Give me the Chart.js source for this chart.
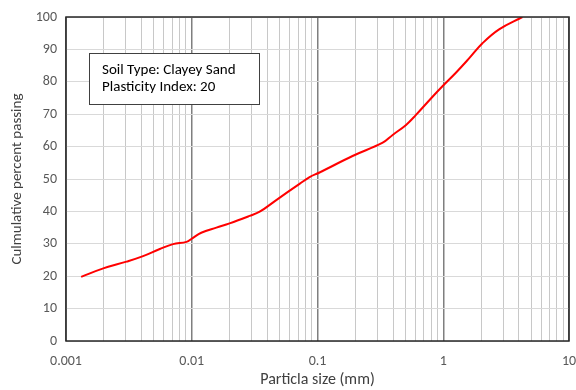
<!DOCTYPE html>
<html>
<head>
<meta charset="utf-8">
<script src="https://cdn.jsdelivr.net/npm/chart.js@4.4.0/dist/chart.umd.min.js"></script>
<style>
  html, body { margin: 0; padding: 0; background: #fff; }
  #wrap { width: 576px; height: 390px; }
</style>
</head>
<body>
<div id="wrap"><canvas id="grafico"></canvas></div>
<script>
const tamanhos = [0.00132, 0.00198, 0.00303, 0.0041, 0.00557, 0.0071, 0.00908, 0.0101, 0.0119, 0.0157, 0.02,
  0.0288, 0.0347, 0.047, 0.072, 0.0865, 0.1038, 0.19, 0.33, 0.396, 0.506, 0.607, 0.822, 0.99, 1.26, 1.61, 2.05, 2.78, 4.26];
const passante = [19.8, 22.4, 24.5, 26.2, 28.4, 29.9, 30.6, 31.7, 33.4, 35.0, 36.3,
  38.6, 39.9, 43.5, 48.5, 50.6, 52.0, 57.1, 61.2, 63.6, 66.7, 69.8, 75.4, 78.7, 82.8, 87.3, 91.9, 96.2, 100];
const decadas = [0.001, 0.01, 0.1, 1, 10];
const rotulosX = ['0.001', '0.01', '0.1', '1', '10'];
const yTicks = [0, 10, 20, 30, 40, 50, 60, 70, 80, 90, 100];
const anotacao = ['Soil Type: Clayey Sand', 'Plasticity Index: 20'];

const fonte = "Calibri, Carlito, 'Open Sans', sans-serif";

// ticks de 1 a 9 em cada década
function ticksLog() {
  const out = [];
  for (let i = 0; i < decadas.length - 1; i++) {
    for (let m = 1; m <= 9; m++) out.push({ value: +(decadas[i] * m).toPrecision(3) });
  }
  out.push({ value: decadas[decadas.length - 1] });
  return out;
}

function ehDecada(v) {
  return decadas.some(d => Math.abs(v - d) / d < 1e-6);
}

const bordaPlot = {
  id: 'bordaPlot',
  afterDatasetsDraw(chart) {
    const { ctx, chartArea: a } = chart;
    ctx.save();
    ctx.strokeStyle = '#262626';
    ctx.lineWidth = 1.5;
    ctx.strokeRect(a.left, a.top, a.right - a.left, a.bottom - a.top);
    ctx.restore();
  }
};

const caixaTexto = {
  id: 'caixaTexto',
  afterDraw(chart) {
    const { ctx, chartArea: a } = chart;
    const x = a.left + 23, y = a.top + 36, w = 170, h = 51;
    ctx.save();
    ctx.fillStyle = '#fff';
    ctx.fillRect(x, y, w, h);
    ctx.strokeStyle = '#404040';
    ctx.lineWidth = 1;
    ctx.strokeRect(x + 0.5, y + 0.5, w, h);
    ctx.fillStyle = '#000';
    ctx.font = '15px ' + fonte;
    ctx.textBaseline = 'middle';
    ctx.fillText(anotacao[0], x + 13, y + 17);
    ctx.fillText(anotacao[1], x + 13, y + 34);
    ctx.restore();
  }
};

new Chart(document.getElementById('grafico').getContext('2d'), {
  type: 'line',
  data: {
    datasets: [{
      data: tamanhos.map((t, i) => ({ x: t, y: passante[i] })),
      borderColor: '#ff0000',
      borderWidth: 2,
      pointRadius: 0,
      tension: 0.4,
      fill: false
    }]
  },
  options: {
    responsive: true,
    maintainAspectRatio: false,
    animation: false,
    layout: { padding: { top: 17, right: 7, left: 0, bottom: 0 } },
    plugins: { legend: { display: false }, tooltip: { enabled: false } },
    scales: {
      x: {
        type: 'logarithmic',
        min: 0.001,
        max: 10,
        afterBuildTicks: s => { s.ticks = ticksLog(); },
        afterFit: s => { s.height = 49; s.paddingRight = 0; s.paddingLeft = 0; },
        grid: {
          drawTicks: false,
          color: c => ehDecada(c.tick.value) ? '#7f7f7f' : '#c8c8c8',
          lineWidth: c => ehDecada(c.tick.value) ? 1.5 : 1
        },
        border: { display: false },
        ticks: {
          autoSkip: false,
          maxRotation: 0,
          padding: 12,
          color: '#595959',
          font: { family: fonte, size: 14 },
          callback: v => {
            const i = decadas.findIndex(d => Math.abs(v - d) / d < 1e-6);
            return i >= 0 ? rotulosX[i] : '';
          }
        },
        title: {
          display: true,
          text: 'Particla size (mm)',
          color: '#404040',
          font: { family: fonte, size: 16 },
          padding: { top: 6, bottom: 0 }
        }
      },
      y: {
        min: 0,
        max: 100,
        afterBuildTicks: s => { s.ticks = yTicks.map(v => ({ value: v })); },
        afterFit: s => { s.width = 66; s.paddingTop = 0; s.paddingBottom = 0; },
        grid: { drawTicks: false, color: '#d9d9d9', lineWidth: 1 },
        border: { display: false },
        ticks: {
          padding: 9,
          color: '#595959',
          font: { family: fonte, size: 14 }
        },
        title: {
          display: true,
          text: 'Culmulative percent passing',
          color: '#404040',
          font: { family: fonte, size: 15 },
          padding: { top: 8, bottom: 0 }
        }
      }
    }
  },
  plugins: [bordaPlot, caixaTexto]
});
</script>
</body>
</html>
